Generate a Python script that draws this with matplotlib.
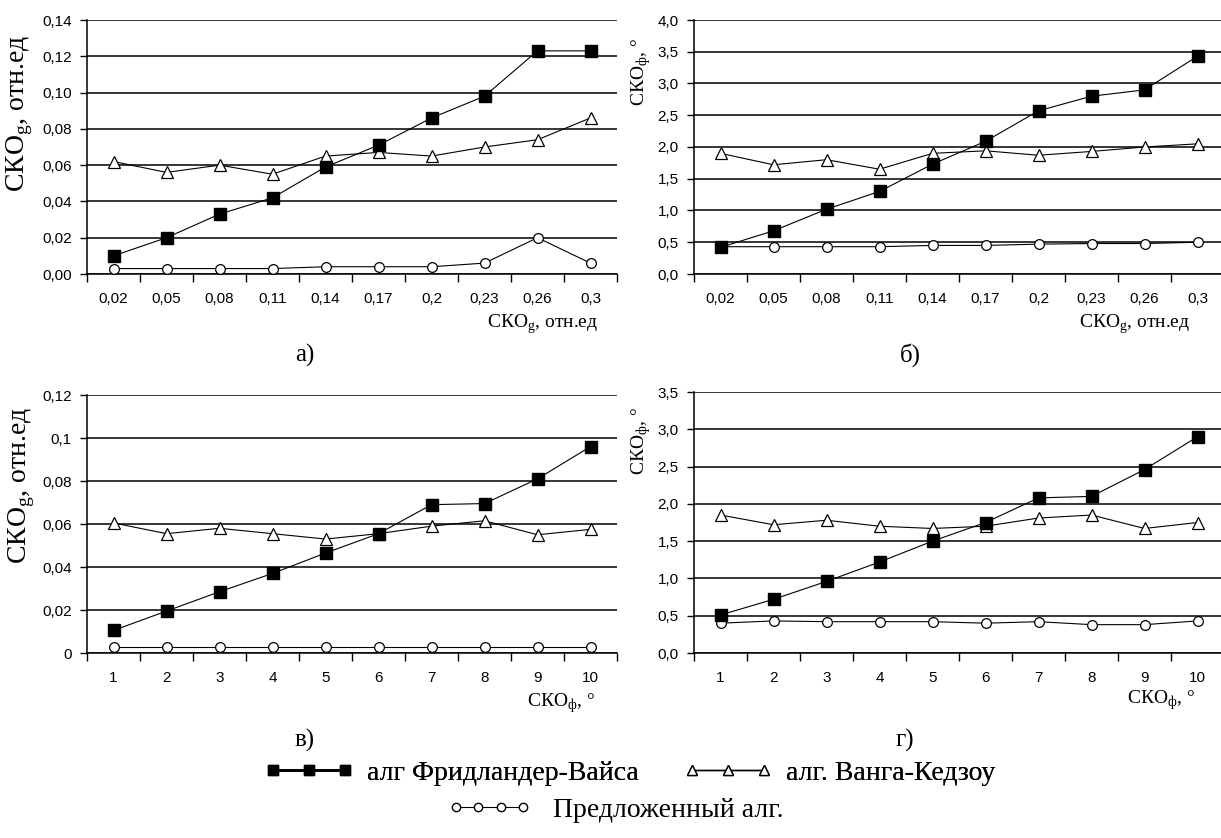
import numpy as np
import matplotlib.pyplot as plt
from matplotlib.lines import Line2D

W, H = 1221, 838

# x categories
x_g_labels = ['0,02', '0,05', '0,08', '0,11', '0,14', '0,17', '0,2', '0,23', '0,26', '0,3']
x_phi_labels = ['1', '2', '3', '4', '5', '6', '7', '8', '9', '10']

# panel а) : error of g vs noise in g
a_fv = [0.010, 0.020, 0.033, 0.042, 0.059, 0.071, 0.086, 0.098, 0.123, 0.123]
a_wk = [0.062, 0.056, 0.060, 0.055, 0.065, 0.067, 0.065, 0.070, 0.074, 0.086]
a_new = [0.003, 0.003, 0.003, 0.003, 0.004, 0.004, 0.004, 0.006, 0.020, 0.006]

# panel б) : error of phi vs noise in g
b_fv = [0.42, 0.68, 1.02, 1.30, 1.73, 2.09, 2.57, 2.80, 2.90, 3.43]
b_wk = [1.90, 1.72, 1.80, 1.65, 1.90, 1.94, 1.87, 1.93, 2.00, 2.05]
b_new = [0.43, 0.43, 0.43, 0.43, 0.45, 0.45, 0.47, 0.48, 0.48, 0.50]

# panel в) : error of g vs noise in phi
c_fv = [0.0105, 0.0195, 0.0285, 0.037, 0.0465, 0.0555, 0.069, 0.0695, 0.081, 0.096]
c_wk = [0.0605, 0.0555, 0.058, 0.0555, 0.053, 0.0555, 0.059, 0.0615, 0.055, 0.0575]
c_new = [0.003, 0.003, 0.003, 0.003, 0.003, 0.003, 0.003, 0.003, 0.003, 0.003]

# panel г) : error of phi vs noise in phi
d_fv = [0.51, 0.72, 0.96, 1.22, 1.50, 1.75, 2.08, 2.10, 2.46, 2.90]
d_wk = [1.85, 1.72, 1.78, 1.70, 1.67, 1.70, 1.81, 1.85, 1.67, 1.75]
d_new = [0.40, 0.43, 0.42, 0.42, 0.42, 0.40, 0.42, 0.38, 0.38, 0.43]

# y ticks
a_yticks = [0, 0.02, 0.04, 0.06, 0.08, 0.10, 0.12, 0.14]
a_ylabels = ['0,00', '0,02', '0,04', '0,06', '0,08', '0,10', '0,12', '0,14']
b_yticks = [0, 0.5, 1.0, 1.5, 2.0, 2.5, 3.0, 3.5, 4.0]
b_ylabels = ['0,0', '0,5', '1,0', '1,5', '2,0', '2,5', '3,0', '3,5', '4,0']
c_yticks = [0, 0.02, 0.04, 0.06, 0.08, 0.10, 0.12]
c_ylabels = ['0', '0,02', '0,04', '0,06', '0,08', '0,1', '0,12']
d_yticks = [0, 0.5, 1.0, 1.5, 2.0, 2.5, 3.0, 3.5]
d_ylabels = ['0,0', '0,5', '1,0', '1,5', '2,0', '2,5', '3,0', '3,5']

legend_names = ['алг Фридландер-Вайса', 'алг. Ванга-Кедзоу', 'Предложенный алг.']

SERIF = ['Liberation Serif', 'DejaVu Serif']
SANS = ['Liberation Sans', 'DejaVu Sans']
plt.rcParams['font.family'] = SANS
plt.rcParams['mathtext.fontset'] = 'custom'
plt.rcParams['mathtext.rm'] = 'Liberation Serif'


def rect(l, t, r, b):
    return [l / W, 1 - b / H, (r - l) / W, (b - t) / H]


def ftext(x, y, s, **kw):
    fig.text(x / W, 1 - y / H, s, **kw)


fig = plt.figure(figsize=(W / 100, H / 100), dpi=100)

fv_style = dict(color='black', lw=0.8, marker='s', ms=8, mfc='black', mec='black')
wk_style = dict(color='black', lw=0.8, marker='^', ms=8, mfc='white', mec='black', mew=0.9)
new_style = dict(color='black', lw=0.8, marker='o', ms=7, mfc='white', mec='black', mew=0.9)

panels = [
    (rect(87, 20, 617, 274), x_g_labels, a_fv, a_wk, a_new, a_yticks, a_ylabels),
    (rect(694, 20, 1224, 274), x_g_labels, b_fv, b_wk, b_new, b_yticks, b_ylabels),
    (rect(87, 395, 617, 653), x_phi_labels, c_fv, c_wk, c_new, c_yticks, c_ylabels),
    (rect(694, 392, 1224, 653), x_phi_labels, d_fv, d_wk, d_new, d_yticks, d_ylabels),
]

for pos, xl, fv, wk, new, yt, yl in panels:
    ax = fig.add_axes(pos)
    x = np.arange(len(xl))
    ax.plot(x, new, **new_style, zorder=3)
    ax.plot(x, wk, **wk_style, zorder=4)
    ax.plot(x, fv, **fv_style, zorder=5)
    ax.set_xlim(-0.5, len(xl) - 0.5)
    ax.set_ylim(yt[0], yt[-1])
    ax.set_yticks(yt)
    ax.set_yticklabels(yl, fontsize=11)
    ax.set_xticks(np.arange(len(xl) + 1) - 0.5)
    ax.set_xticklabels([])
    ax.set_xticks(x, minor=True)
    ax.set_xticklabels(xl, minor=True, fontsize=11)
    ax.tick_params(axis='x', which='major', direction='out', length=6, width=1)
    ax.tick_params(axis='x', which='minor', length=0, pad=13)
    ax.tick_params(axis='y', direction='out', length=5, width=1, pad=6)
    ax.yaxis.grid(True, color='black', lw=1.1)
    ax.set_axisbelow(True)
    for side in ['top', 'right']:
        ax.spines[side].set_visible(False)
    for side in ['left', 'bottom']:
        ax.spines[side].set_linewidth(1.1)
    ax.patch.set_alpha(0)

# axis titles
lab_g = 'СКО$_\\mathregular{g}$, отн.ед'
lab_phi = 'СКО$_\\mathregular{ф}$, °'
ftext(598, 324, lab_g, family=SERIF, fontsize=14, ha='right', va='center')
ftext(1190, 324, lab_g, family=SERIF, fontsize=14, ha='right', va='center')
ftext(595, 703, lab_phi, family=SERIF, fontsize=14, ha='right', va='center')
ftext(1195, 700, lab_phi, family=SERIF, fontsize=14, ha='right', va='center')

ftext(20, 113, lab_g, family=SERIF, fontsize=20, rotation=90, ha='center', va='center')
ftext(22, 485, lab_g, family=SERIF, fontsize=20, rotation=90, ha='center', va='center')
ftext(641, 72, lab_phi, family=SERIF, fontsize=14, rotation=90, ha='center', va='center')
ftext(641, 441, lab_phi, family=SERIF, fontsize=14, rotation=90, ha='center', va='center')

# panel letters
for px, py, s in [(305, 355, 'а)'), (910, 355, 'б)'), (305, 740, 'в)'), (905, 740, 'г)')]:
    ftext(px, py, s, family=SERIF, fontsize=18, ha='center', va='center')

# legend
h_fv = Line2D([], [], color='black', lw=2, marker='s', ms=7, mfc='black', mec='black')
h_wk = Line2D([], [], color='black', lw=1, marker='^', ms=7, mfc='white', mec='black')
h_new = Line2D([], [], color='black', lw=0.8, marker='o', ms=6, mfc='white', mec='black')
leg1 = fig.legend([h_fv, h_wk], legend_names[:2], ncol=2, loc='center',
                  bbox_to_anchor=(630 / W, 1 - 773 / H), frameon=False, numpoints=3,
                  handlelength=3.2, columnspacing=1.6, handletextpad=0.5,
                  prop={'family': SERIF, 'size': 20})
leg2 = fig.legend([h_new], legend_names[2:], loc='center',
                  bbox_to_anchor=(616 / W, 1 - 810 / H), frameon=False,
                  numpoints=4, handlelength=3.0, handletextpad=0.8,
                  prop={'family': SERIF, 'size': 20})
fig.add_artist(leg1)

fig.savefig('out.png', dpi=100)
